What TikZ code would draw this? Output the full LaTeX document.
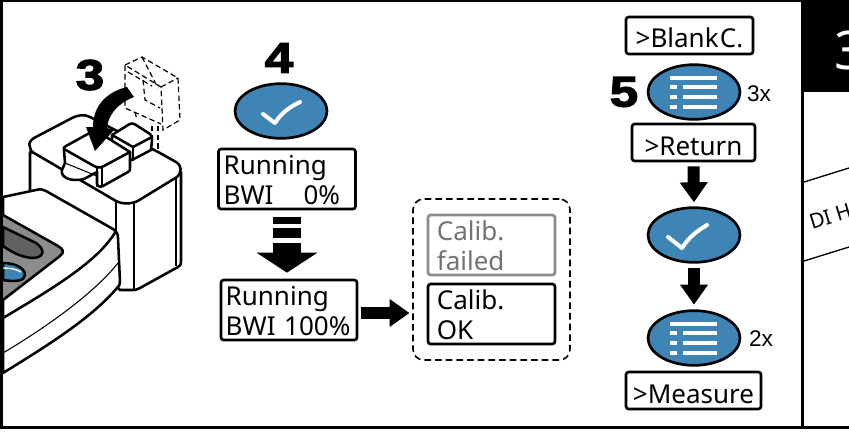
\documentclass[tikz,border=0pt]{standalone}
\usepackage{fontspec}
\setmainfont{Noto Sans}
\newfontfamily\armfont{Liberation Sans}
\newfontfamily\numfont[FakeBold=3,FakeStretch=1.2]{Liberation Sans Bold}
\usetikzlibrary{arrows.meta,shapes.geometric}
\definecolor{keyblue}{HTML}{3E85B6}
\newcommand\liftb{\rule{0pt}{16.5pt}}
\newcommand\lifts{\rule{0pt}{19pt}}
\tikzset{
 x=0.75pt,y=-0.75pt,
 lcd/.style={draw=black,fill=white,rounded corners=2pt,line width=2pt,inner sep=0pt,align=left,font=\fontsize{19.5}{22.5}\selectfont},
 lcdgrey/.style={lcd,draw=black!45,text=black!55},
 menubox/.style={lcd,align=center},
 keyoval/.style={ellipse,draw=black,fill=keyblue,line width=2pt,minimum width=69pt,minimum height=41pt,inner sep=0pt},
 stepnum/.style={font=\numfont\fontsize{32}{32}\selectfont,inner sep=0pt},
 times/.style={font=\armfont\fontsize{17}{17}\selectfont,inner sep=0pt},
 tick/.style={draw=white,line width=3pt,line cap=round,line join=round},
 menubar/.style={fill=white,draw=none},
 blockone/.style={line width=9pt,-{Triangle[width=20pt,length=15pt]}},
 blockwide/.style={line width=21pt,-{Triangle[width=45pt,length=15pt]}},
 blockside/.style={line width=9pt,-{Triangle[width=20pt,length=15pt]}},
 ink/.style={draw=black,line width=1.9pt,line join=round,line cap=round},
 thin ink/.style={draw=black,line width=0.8pt},
 ghost/.style={draw=black,line width=0.9pt,dash pattern=on 4pt off 2.5pt},
}
\begin{document}
\begin{tikzpicture}
\useasboundingbox (0,0) rectangle (849,433);
\fill[white] (0,0) rectangle (849,433);
% ghost cuvette
\draw[ghost] (125,65) -- (142,57) -- (178,78) -- (180,120) -- (163,130) -- (161,87) -- (125,65) -- (125,108) -- (161,124);
\draw[ghost] (161,87) -- (178,78);
\draw[ghost] (142,57) -- (158,88);
\draw[ghost] (128,72) -- (152,86);
\draw[ghost] (143,80) -- (145,100) -- (160,108);
\draw[ghost] (158,126) -- (158,152);
\draw[ghost] (152,126) -- (152,138);
\draw[ghost] (135,112) -- (137,120);
% holder
\draw[ink,fill=white] (30,152) -- (30,200) -- (120,290) -- (133,290) .. controls (137,290) and (137,289) .. (140,288) -- (178,267) .. controls (181,265) and (181,264) .. (181,261) -- (181,172) -- (30,152);
\draw[ink,fill=white] (30,147) .. controls (28,143) and (31,140) .. (34,138) -- (72,118) .. controls (78,115) and (84,114) .. (90,117) -- (160,153) -- (176,162) .. controls (182,166) and (182,172) .. (177,177) -- (141,199) .. controls (134,204) and (124,205) .. (116,201) -- (34,153) .. controls (31,151) and (30,150) .. (30,147) -- cycle;
\draw[thin ink] (116,202) -- (116,290);
\draw[thin ink] (134,203) -- (134,289);
\draw[thin ink] (176,178) -- (176,266);
% back block
\draw[ink,fill=white] (112,135) -- (128,125) .. controls (131,123) and (133,123) .. (136,125) -- (150,134) .. controls (152,136) and (152,137) .. (152,140) -- (151,150) -- (132,160) -- (112,150) -- cycle;
\draw[ink] (112,135) -- (133,147) -- (152,137);
\draw[ink] (133,147) -- (133,160);
% lid
\draw[ink,fill=white] (65,163) -- (62,170) .. controls (60,178) and (72,182) .. (84,179) -- (97,172) -- (97,184) .. controls (98,187) and (100,187) .. (103,186) -- (128,172) .. controls (130,171) and (130,170) .. (130,168) -- (130,152) -- (95,130) -- (66,146) .. controls (64,147) and (63,148) .. (64,150) -- cycle;
\draw[ink] (64,149) -- (94,166) .. controls (98,168) and (100,168) .. (104,166) -- (130,152);
\draw[thin ink] (65,163) -- (97,176);
\draw[ink] (97,167) -- (97,186);
\draw[ink] (102,167) -- (102,186);
% arrow 3
\fill[black] (127,87) .. controls (110,91) and (93,103) .. (93,127) -- (86,127) -- (95,151) -- (114,130) -- (107,128) .. controls (108,115) and (118,103) .. (134,97) -- cycle;
% meter
\draw[ink,fill=white] (3,197) -- (36,190) .. controls (40,189) and (43,189) .. (46,191) -- (113,229) .. controls (117,232) and (118,234) .. (118,238) -- (120,282) .. controls (120,285) and (119,286) .. (117,288) .. controls (90,320) and (40,350) .. (3,373) -- cycle;
\fill[black!45] (3,215) -- (58,246) .. controls (63,249) and (65,252) .. (60,256) -- (3,300) -- cycle;
\draw[ink] (3,215) -- (58,246) .. controls (63,249) and (65,252) .. (60,256) -- (3,300);
\draw[ink,fill=black!62] (3,227) -- (36,243) .. controls (46,250) and (44,258) .. (32,258) .. controls (20,257) and (10,251) .. (3,246) -- cycle;
\draw[ink,fill=keyblue] (3,263) .. controls (15,263) and (25,268) .. (25,275) .. controls (25,281) and (15,282) .. (3,280) -- cycle;
\draw[white,line width=1pt] (3,268) .. controls (10,268) and (16,269) .. (21,272);
\draw[ink] (116,231) .. controls (98,262) and (50,290) .. (3,318);
\draw[thin ink] (118,263) .. controls (95,292) and (50,325) .. (3,353);
% numerals
\node[stepnum] (n3) at (90,75) {3};
\node[stepnum] (n4) at (279,58) {4};
\node[stepnum] (n5) at (624,92) {5};
% step 4
\node[keyoval] (ok4) at (281,111) {};
\draw[tick] (263,114) -- (275,123) .. controls (282,112) and (290,107) .. (300,102);
\node[lcd,minimum width=102.75pt,minimum height=45pt,text width=95pt] (r0) at (287,179) {\liftb Running\\BWI\hspace{22.5pt}0\%};
\node[lcd,minimum width=102pt,minimum height=45pt,text width=95pt] (r100) at (289,310) {\liftb Running\\BWI 100\%};
\draw[blockwide] (r0.south) ++(0,7) -- ([yshift=4.5pt]r0.south |- r100.north);
\fill[white] (270,224) rectangle (304,228);
\fill[white] (270,238) rectangle (304,243);
% result group
\node[draw=black,line width=1.2pt,dash pattern=on 5pt off 3pt,rounded corners=8pt,minimum width=117.75pt,minimum height=120.75pt,inner sep=0pt] (grp) at (491.5,279.5) {};
\node[lcdgrey,minimum width=95.25pt,minimum height=45pt,text width=82pt] (fail) at (491.5,245) {\liftb Calib.\\failed};
\node[lcd,minimum width=95.25pt,minimum height=45pt,text width=82pt] (okb) at (491.5,314) {\liftb Calib.\\OK};
\draw[blockside] ([yshift=-2.25pt]r100.east) ++(3,0) -- ([yshift=-2.25pt,xshift=-2pt]r100.east -| grp.west);
% step 5
\node[menubox,minimum width=95.25pt,minimum height=27.75pt,text width=90pt] (blank) at (689.5,35.5) {\lifts >Blank\hspace{1pt}C.};
\node[keyoval] (menu1) at (694,92) {};
\node[menubox,minimum width=92.25pt,minimum height=27.75pt,text width=88pt] (ret) at (693.5,142.5) {\lifts >Return};
\node[keyoval] (enter) at (694,235) {};
\node[keyoval] (menu2) at (694,338) {};
\node[menubox,minimum width=101.25pt,minimum height=27.75pt,text width=98pt] (meas) at (693.5,390.5) {\lifts >Measure};
\node[times] (x3) at (759,94) {3x};
\node[times] (x2) at (761,339) {2x};
\foreach \c in {menu1,menu2}{
 \fill[menubar] ([shift={(-24,-16)}]\c.center) rectangle ([shift={(23,-12)}]\c.center);
 \foreach \dy in {-5,5,15}{
  \fill[menubar] ([shift={(-24,\dy-2)}]\c.center) rectangle ([shift={(-17,\dy+2)}]\c.center);
  \fill[menubar] ([shift={(-11,\dy-2)}]\c.center) rectangle ([shift={(23,\dy+2)}]\c.center);
 }
}
\draw[tick] (668,237) -- (682,248) .. controls (689,237) and (697,231) .. (707,225);
\draw[blockone] (ret.south) ++(0,4) -- ([yshift=3pt]enter.north);
\draw[blockone] (enter.south) ++(0,4) -- ([yshift=3.5pt]menu2.north);
% frame and right panel
\fill[black] (0,0) rectangle (3,428);
\fill[black] (0,0) rectangle (849,1.5);
\fill[black] (0,425.5) rectangle (849,429);
\fill[black] (801,0) rectangle (804,428);
\fill[black] (801,0) rectangle (849,92);
\draw[line width=1pt] (804,182) -- (849,168);
\draw[line width=1pt] (804,261) -- (849,247);
\begin{scope}
\clip (804,0) rectangle (849,428);
\node[anchor=center,text=white,inner sep=0pt,font=\fontsize{40}{40}\selectfont\bfseries] (h3) at (850,50) {3};
\node[anchor=west,rotate=17,inner sep=0pt,font=\fontsize{15.5}{15.5}\selectfont] (di) at (810,223) {DI H};
\end{scope}
\end{tikzpicture}
\end{document}
